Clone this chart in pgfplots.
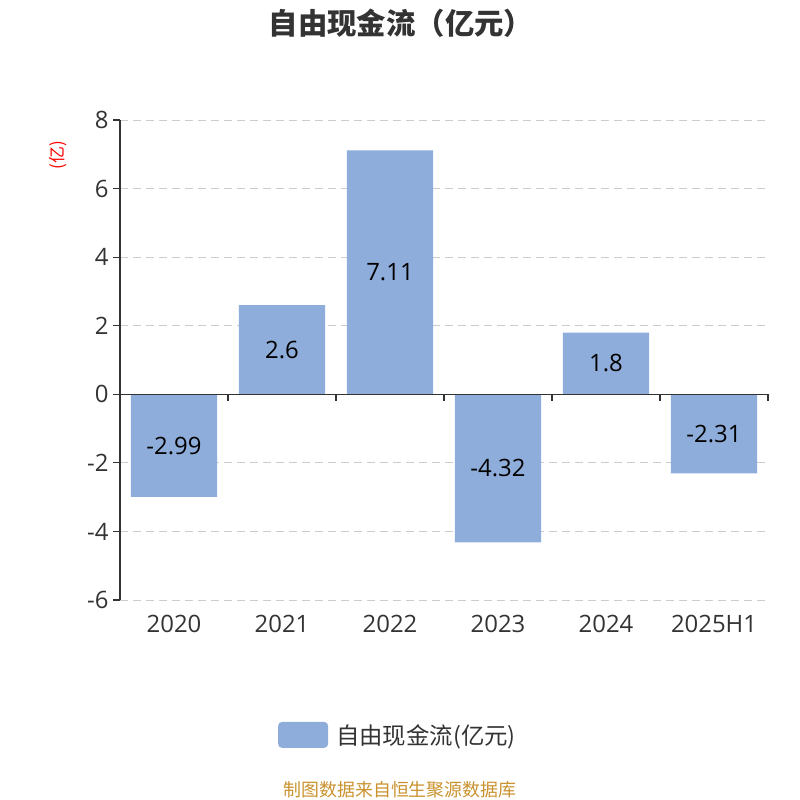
\documentclass[border=0pt]{standalone}
\usepackage{fontspec}
\setmainfont{Open Sans}
\newfontfamily\cjk{Noto Sans CJK SC}
\usepackage{pgfplots}
\usepackage{pgfplotstable}
\pgfplotsset{compat=1.18}

\definecolor{barblue}{HTML}{8EADDA}
\definecolor{txt}{HTML}{333333}
\definecolor{gridc}{HTML}{CCCCCC}
\definecolor{foot}{HTML}{C9922E}

\pgfplotstableread{
x v
0 -2.99
1 2.6
2 7.11
3 -4.32
4 1.8
5 -2.31
}\fcf

\begin{document}
\begin{tikzpicture}[x=1bp,y=1bp]
\path[use as bounding box] (0,0) rectangle (800,800);

\node[text=txt, font=\cjk\fontsize{29.5}{34}\selectfont\bfseries] at (401,777) {自由现金流（亿元）};
\node[text=red, rotate=90, font=\cjk\fontsize{17}{20}\selectfont] at (58,645) {(亿)};
\node[text=foot, font=\cjk\fontsize{18}{21}\selectfont] at (400,10) {制图数据来自恒生聚源数据库};

\begin{axis}[
  at={(120bp,200bp)}, anchor=south west,
  width=648bp, height=480bp, scale only axis,
  xmin=-0.5, xmax=5.5, ymin=-6, ymax=8,
  axis lines*=left,
  x axis line style={draw=none},
  y axis line style={color=txt, line width=1.2pt, -},
  xtick={0,...,5},
  xticklabels={2020,2021,2022,2023,2024,2025H1},
  x tick style={draw=none},
  x tick label style={text=txt, font=\fontsize{24}{28}\selectfont, yshift=-5bp},
  ytick={-6,-4,...,8},
  ymajorgrids,
  grid style={gridc, line width=0.9pt, dash pattern=on 8bp off 5bp},
  major tick length=7bp,
  tick align=outside,
  y tick style={color=txt, line width=1.2pt},
  y tick label style={text=txt, font=\fontsize{24}{28}\selectfont, xshift=-1bp},
  /pgf/number format/assume math mode=true,
  clip=false,
  legend style={at={(0.429,-0.281)}, anchor=center, draw=none, fill=none,
    font=\cjk\fontsize{23.5}{28}\selectfont, text=txt},
  legend image code/.code={\fill[barblue, rounded corners=4bp] (0bp,-13bp) rectangle (50bp,13bp);\path (56bp,0bp);},
]
\addplot[ybar, bar width=0.8, fill=barblue, draw=none] table[x=x, y=v] {\fcf};
\addlegendentry{自由现金流(亿元)}
\addplot[draw=none, mark=none, forget plot, nodes near coords, point meta=explicit symbolic,
  every node near coord/.append style={anchor=center, text=black, font=\fontsize{24}{28}\selectfont}]
  table[x=x, y expr=\thisrow{v}/2, meta=v] {\fcf};
\draw[txt, line width=1.2pt] (axis cs:-0.5,0) -- (axis cs:5.5,0);
\pgfplotsinvokeforeach{0.5,1.5,2.5,3.5,4.5,5.5}{
  \draw[txt, line width=1.2pt] (axis cs:#1,0) -- ([yshift=-7bp]axis cs:#1,0);
}
\end{axis}
\end{tikzpicture}
\end{document}
